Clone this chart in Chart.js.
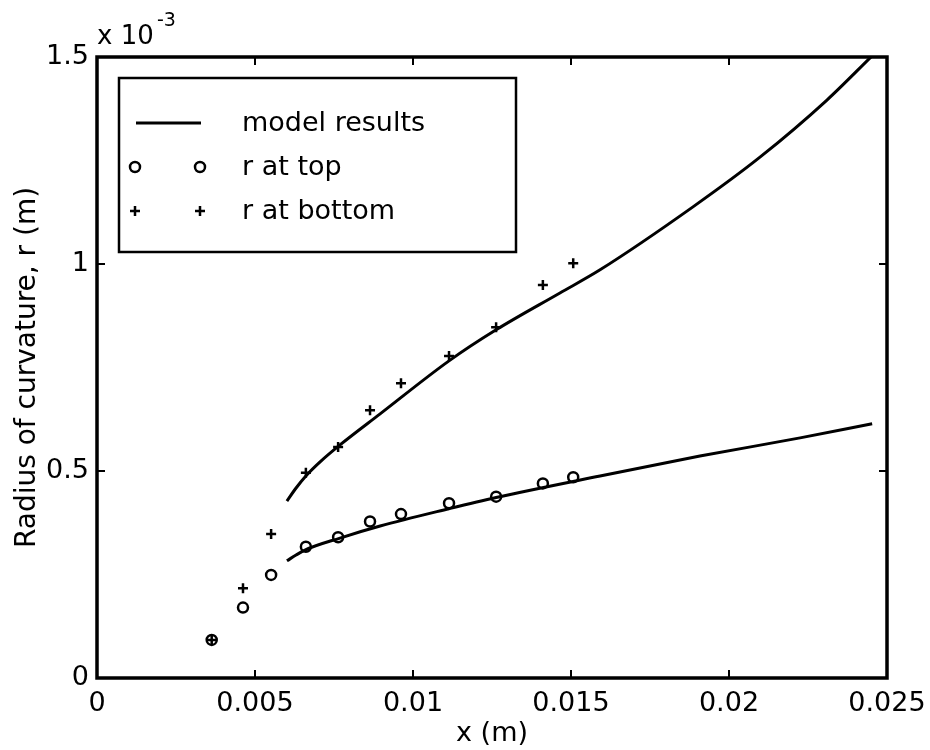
<!DOCTYPE html>
<html>
<head>
<meta charset="utf-8">
<script src="https://cdn.jsdelivr.net/npm/chart.js@4"></script>
<style>
  body { margin: 0; background: #fff; }
  canvas { display: block; }
</style>
</head>
<body>
<canvas id="curv-chart" width="930" height="750"></canvas>
<script>
// axis ticks (x in m, r in units of 1e-3 m)
const xTicks = [0, 0.005, 0.01, 0.015, 0.02, 0.025];
const yTicks = [0, 0.5, 1, 1.5];

// measured points
const sampleX = [0.00363, 0.00462, 0.00551, 0.00661, 0.00763, 0.00864, 0.00962, 0.01114, 0.01263, 0.01411, 0.01507];
const rTop = [0.092, 0.170, 0.249, 0.317, 0.340, 0.378, 0.396, 0.422, 0.438, 0.470, 0.485];
const rBottom = [0.092, 0.217, 0.348, 0.496, 0.558, 0.647, 0.712, 0.778, 0.847, 0.949, 1.002];

// model curves
const modelUpperX = [0.00601, 0.0063, 0.00661, 0.00706, 0.00769, 0.00896, 0.01114, 0.01263, 0.01465, 0.01592, 0.01886, 0.02098, 0.0231, 0.02456];
const modelUpperR = [0.4275, 0.459, 0.488, 0.522, 0.563, 0.638, 0.766, 0.841, 0.930, 0.986, 1.138, 1.258, 1.396, 1.505];
const modelLowerX = [0.00601, 0.0063, 0.00658, 0.00769, 0.00896, 0.01114, 0.01263, 0.01592, 0.01908, 0.02225, 0.02453];
const modelLowerR = [0.283, 0.297, 0.309, 0.338, 0.367, 0.409, 0.436, 0.488, 0.536, 0.580, 0.614];

const toPoints = (xs, ys) => xs.map((x, i) => ({ x: x, y: ys[i] }));

Chart.defaults.font.family = "'DejaVu Sans', sans-serif";
Chart.defaults.font.size = 27;
Chart.defaults.color = "#000";

// frame, inward ticks, exponent and legend box, matlab style
const matlabFrame = {
  id: "matlabFrame",
  afterDraw(chart) {
    const ctx = chart.ctx;
    const a = chart.chartArea;
    const xs = chart.scales.x;
    const ys = chart.scales.y;
    ctx.save();
    ctx.strokeStyle = "#000";
    ctx.lineWidth = 2;
    xTicks.forEach((v) => {
      const px = xs.getPixelForValue(v);
      ctx.beginPath();
      ctx.moveTo(px, a.bottom); ctx.lineTo(px, a.bottom - 8);
      ctx.moveTo(px, a.top); ctx.lineTo(px, a.top + 8);
      ctx.stroke();
    });
    yTicks.forEach((v) => {
      const py = ys.getPixelForValue(v);
      ctx.beginPath();
      ctx.moveTo(a.left, py); ctx.lineTo(a.left + 8, py);
      ctx.moveTo(a.right, py); ctx.lineTo(a.right - 8, py);
      ctx.stroke();
    });
    ctx.lineWidth = 3.5;
    ctx.strokeRect(a.left, a.top, a.right - a.left, a.bottom - a.top);

    // exponent label
    ctx.fillStyle = "#000";
    ctx.textBaseline = "middle";
    ctx.textAlign = "left";
    ctx.font = "26px 'DejaVu Sans'";
    ctx.fillText("x 10", a.left, a.top - 20);
    ctx.font = "19px 'DejaVu Sans'";
    ctx.fillText("-3", a.left + 60, a.top - 36);

    // legend
    const box = { x: 119, y: 78, w: 397, h: 174 };
    ctx.fillStyle = "#fff";
    ctx.fillRect(box.x, box.y, box.w, box.h);
    ctx.lineWidth = 2.5;
    ctx.strokeRect(box.x, box.y, box.w, box.h);
    const rows = chart.data.datasets.filter((d) => !d.hideInLegend);
    rows.forEach((d, i) => {
      const cy = 123 + i * 44;
      ctx.strokeStyle = "#000";
      if (d.showLine) {
        ctx.lineWidth = 3;
        ctx.beginPath();
        ctx.moveTo(136, cy); ctx.lineTo(201, cy);
        ctx.stroke();
      } else {
        [135, 200].forEach((mx) => {
          ctx.fillStyle = "rgba(0,0,0,0)";
          ctx.lineWidth = d.borderWidth;
          Chart.helpers.drawPoint(ctx, {
            pointStyle: d.pointStyle,
            radius: d.pointRadius,
            borderWidth: d.borderWidth,
          }, mx, cy);
        });
      }
      ctx.fillStyle = "#000";
      ctx.font = "27px 'DejaVu Sans'";
      ctx.textBaseline = "middle";
      ctx.fillText(d.label, 242, cy + 1);
    });
    ctx.restore();
  },
};

new Chart(document.getElementById("curv-chart"), {
  type: "scatter",
  data: {
    datasets: [
      {
        label: "model results",
        data: toPoints(modelUpperX, modelUpperR),
        showLine: true,
        borderColor: "#000",
        borderWidth: 3,
        pointRadius: 0,
        cubicInterpolationMode: "monotone",
      },
      {
        label: "model results",
        hideInLegend: true,
        data: toPoints(modelLowerX, modelLowerR),
        showLine: true,
        borderColor: "#000",
        borderWidth: 3,
        pointRadius: 0,
        cubicInterpolationMode: "monotone",
      },
      {
        label: "r at top",
        data: toPoints(sampleX, rTop),
        pointStyle: "circle",
        pointRadius: 5,
        borderWidth: 2.5,
        borderColor: "#000",
        backgroundColor: "rgba(0,0,0,0)",
      },
      {
        label: "r at bottom",
        data: toPoints(sampleX, rBottom),
        pointStyle: "cross",
        pointRadius: 5,
        borderWidth: 2.5,
        borderColor: "#000",
        backgroundColor: "#000",
      },
    ],
  },
  options: {
    responsive: false,
    animation: false,
    devicePixelRatio: 1,
    layout: { padding: { top: 57, right: 43, left: 0, bottom: 0 } },
    plugins: {
      legend: { display: false },
      tooltip: { enabled: false },
    },
    scales: {
      x: {
        type: "linear",
        min: 0,
        max: 0.025,
        afterFit: (s) => {
          s.height = 72;
          s.paddingLeft = 0;
          s.paddingRight = 0;
        },
        afterBuildTicks: (s) => { s.ticks = xTicks.map((v) => ({ value: v })); },
        ticks: {
          padding: 10,
          maxRotation: 0,
          callback: (v) => String(v),
        },
        grid: { display: false, drawTicks: false },
        border: { display: false },
        title: { display: true, text: "x (m)", padding: { top: 0, bottom: 0 } },
      },
      y: {
        type: "linear",
        min: 0,
        max: 1.5,
        afterFit: (s) => { s.width = 97; },
        afterBuildTicks: (s) => { s.ticks = yTicks.map((v) => ({ value: v })); },
        ticks: {
          padding: 8,
          callback: (v) => String(v),
        },
        grid: { display: false, drawTicks: false },
        border: { display: false },
        title: {
          display: true,
          text: "Radius of curvature, r (m)",
          font: { size: 28 },
          padding: { top: 11, bottom: 0 },
        },
      },
    },
  },
  plugins: [matlabFrame],
});
</script>
</body>
</html>
